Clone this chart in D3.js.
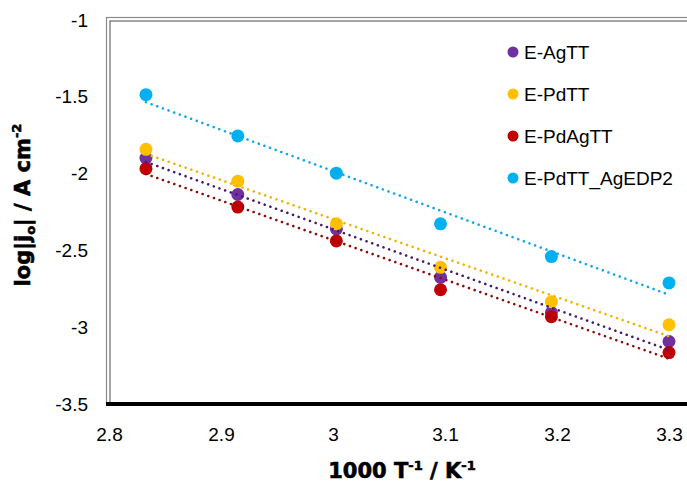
<!DOCTYPE html>
<html><head><meta charset="utf-8">
<script src="https://cdn.jsdelivr.net/npm/d3@7"></script>
<style>body{margin:0;background:#fff}svg{display:block}</style>
</head><body>
<svg id="c" width="687" height="490"></svg>
<script>
// ---- data ----
const xValues = [2.833, 2.915, 3.003, 3.096, 3.195, 3.300];
const seriesNames = ["E-AgTT", "E-PdTT", "E-PdAgTT", "E-PdTT_AgEDP2"];
const agTT      = [-1.899, -2.136, -2.360, -2.675, -2.905, -3.093];
const pdTT      = [-1.842, -2.049, -2.327, -2.610, -2.834, -2.984];
const pdAgTT    = [-1.968, -2.218, -2.438, -2.756, -2.932, -3.165];
const pdTTAgEDP = [-1.486, -1.755, -1.997, -2.327, -2.540, -2.712];
const markerColors = ["#7030A0", "#FFC000", "#C00000", "#00B0F0"];
const trendColors  = ["#4A1872", "#F0B400", "#900C0C", "#10A8E8"];
const xTicks = [2.8, 2.9, 3.0, 3.1, 3.2, 3.3];
const yTicks = [-1, -1.5, -2, -2.5, -3, -3.5];

const allSeries = [agTT, pdTT, pdAgTT, pdTTAgEDP];

const svg = d3.select("#c");
const x = d3.scaleLinear().domain([2.8, 3.3]).range([109, 669]);
const y = d3.scaleLinear().domain([-3.5, -1]).range([404, 20]);

// frame (double grey line)
svg.append("rect").attr("x", 106.5).attr("y", 17.5).attr("width", 700).attr("height", 386)
  .attr("fill", "none").attr("stroke", "#8a8a8a").attr("stroke-width", 1.2);
svg.append("rect").attr("x", 110).attr("y", 21).attr("width", 700).attr("height", 383)
  .attr("fill", "none").attr("stroke", "#6a6a6a").attr("stroke-width", 1.2);

// bottom axis
const xAxis = d3.axisBottom(x).tickValues(xTicks).tickSize(0).tickPadding(24)
  .tickFormat(d => String(+d.toFixed(1)));
const gx = svg.append("g").attr("transform", "translate(0,404)").call(xAxis);
gx.select(".domain").attr("stroke", "#000").attr("stroke-width", 4).attr("d", "M106,0H700");
gx.selectAll("text").attr("font-family", "Liberation Sans, Arial, sans-serif")
  .attr("font-size", 19).attr("fill", "#000");

// left axis
const yAxis = d3.axisLeft(y).tickValues(yTicks).tickSize(0).tickPadding(21)
  .tickFormat(d => String(d));
const gy = svg.append("g").attr("transform", "translate(109,0)").call(yAxis);
gy.select(".domain").remove();
gy.selectAll("text").attr("font-family", "Liberation Sans, Arial, sans-serif")
  .attr("font-size", 19).attr("fill", "#000");

// markers
allSeries.forEach((vals, i) => {
  svg.append("g").selectAll("circle").data(vals).join("circle")
    .attr("cx", (d, j) => x(xValues[j])).attr("cy", d => y(d)).attr("r", 6.5)
    .attr("fill", markerColors[i]);
});

// linear trendlines (least squares of each series)
allSeries.forEach((vals, i) => {
  const n = xValues.length;
  const mx = d3.mean(xValues), my = d3.mean(vals);
  let sxy = 0, sxx = 0;
  for (let j = 0; j < n; j++) { sxy += (xValues[j]-mx)*(vals[j]-my); sxx += (xValues[j]-mx)**2; }
  const b = sxy / sxx, a = my - b * mx;
  const x0 = xValues[0], x1 = xValues[n-1];
  svg.append("line")
    .attr("x1", x(x0)).attr("y1", y(a + b*x0)).attr("x2", x(x1)).attr("y2", y(a + b*x1))
    .attr("stroke", trendColors[i]).attr("stroke-width", 2.6)
    .attr("stroke-linecap", "round").attr("stroke-dasharray", "0.01 6");
});

// legend
const lg = svg.append("g");
const legY = [52, 94, 136, 178];
seriesNames.forEach((name, i) => {
  lg.append("circle").attr("cx", 513).attr("cy", legY[i]).attr("r", 5.5).attr("fill", markerColors[i]);
  lg.append("text").attr("x", 524).attr("y", legY[i] + 7).text(name)
    .attr("font-family", "Liberation Sans, Arial, sans-serif").attr("font-size", 19).attr("fill", "#000");
});

// axis titles
const xt = svg.append("text").attr("x", 402).attr("y", 478).attr("text-anchor", "middle")
  .attr("font-family", "DejaVu Sans, sans-serif").attr("font-weight", "900").attr("font-size", 21)
  .attr("stroke", "#000").attr("stroke-width", 0.6);
xt.append("tspan").text("1000 T");
xt.append("tspan").attr("font-size", 13).attr("dy", -8).text("-1");
xt.append("tspan").attr("dy", 8).text(" / K");
xt.append("tspan").attr("font-size", 13).attr("dy", -8).text("-1");

const yt = svg.append("text").attr("transform", "translate(30,205) rotate(-90)").attr("text-anchor", "middle")
  .attr("font-family", "DejaVu Sans, sans-serif").attr("font-weight", "900").attr("font-size", 21)
  .attr("stroke", "#000").attr("stroke-width", 0.6);
yt.append("tspan").text("log|j");
yt.append("tspan").attr("font-size", 13).attr("dy", 5).text("o");
yt.append("tspan").attr("dy", -5).text("| / A cm");
yt.append("tspan").attr("font-size", 13).attr("dy", -9).text("-2");
</script>
</body></html>
